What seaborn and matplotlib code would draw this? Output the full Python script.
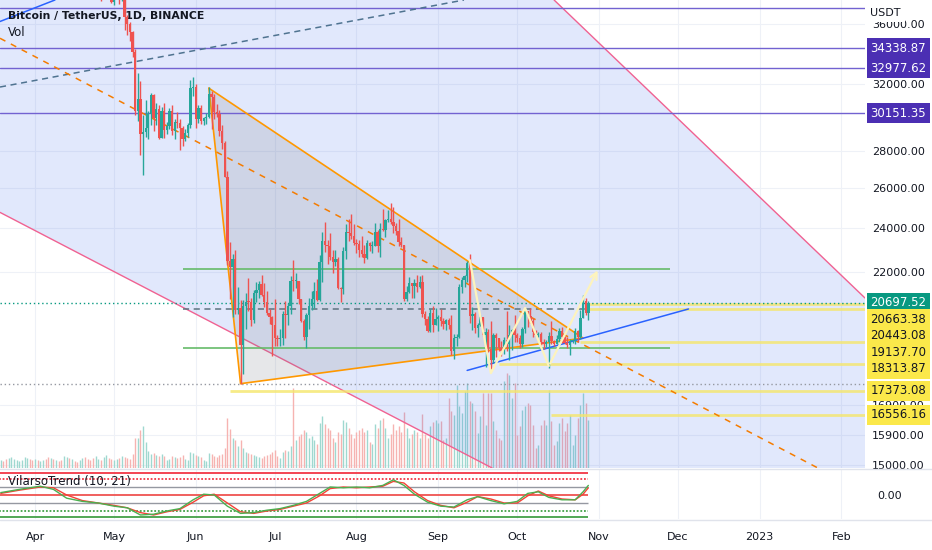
import numpy as np
import pandas as pd
import matplotlib
matplotlib.use("Agg")
import matplotlib.pyplot as plt
import matplotlib.dates as mdates
from matplotlib.ticker import FixedLocator, NullLocator, FuncFormatter
from matplotlib.lines import Line2D
import seaborn as sns

# daily BTC/USDT candles, 2022-03-19 .. 2022-10-28
dates = pd.date_range("2022-03-19", "2022-10-28", freq="D")
first_open = 40920
closes = [
    42200, 41260, 41000, 42360, 42890, 43960, 44350, 44500, 46820, 47130, 47430, 47060, 45540,
    46280, 45810, 46410, 46580, 45500, 43170, 43440, 42250, 42750, 42160, 39520, 40070, 41150, 39940, 40550,
    40380, 39680, 40800, 41500, 41370, 40480, 39710, 39450, 39450, 40430, 38110, 39240, 39740, 38600, 37630,
    38470, 38530, 37750, 39690, 36550, 36010, 35470, 34060, 30300, 31020, 28940, 29050, 29280, 30100, 31300,
    29860, 30420, 28720, 30310, 29200, 29430, 30320, 29100, 29650, 29560, 29270, 28630, 29030, 29470, 31730, 31790,
    29800, 30450, 29700, 29860, 29910, 31370, 31130, 30210, 30110, 29090, 28420, 26580, 22490, 22210, 22580,
    20380, 20470, 19020, 20550, 20720, 20710, 19990, 21090, 21230, 21500, 21030, 20730, 20280, 20100, 19780,
    19300, 19240, 19300, 20230, 20190, 20550, 21630, 21590, 21590, 20850, 19960, 19330, 20210, 20570, 20830,
    21190, 20790, 22430, 23390, 23230, 23160, 22680, 22450, 22580, 21310, 21250, 22950, 23840, 23780, 23640, 23290,
    23270, 22980, 22820, 22620, 23310, 23150, 23180, 23810, 23150, 23950, 23930, 24400, 24440, 24310, 24100,
    23850, 23340, 23190, 20830, 21140, 21520, 21400, 21530, 21370, 21570, 20240, 20040, 19550, 20280, 19800, 20050,
    20130, 19950, 19830, 20000, 19790, 18790, 19290, 19320, 21360, 21650, 21830, 22400, 20170, 20230, 19700,
    19800, 20110, 19420, 19540, 18870, 18480, 19400, 19300, 18920, 18800, 19220, 19080, 19410, 19590, 19420,
    19310, 19050, 19630, 20340, 20160, 19960, 19530, 19420, 19440, 19130, 19060, 19160, 19380, 19180, 19070,
    19270, 19550, 19330, 19120, 19040, 19170, 19210, 19570, 19330, 20090, 20770, 20290, 20697.52,
]
highs = [
    42400, 42300, 41540, 43360, 43000, 44220, 45100, 44820, 46900, 48190, 48100, 47700, 47600,
    46720, 47210, 47440, 46890, 47200, 45510, 43900, 43970, 42800, 43430, 42420, 40700, 41550, 41500, 40890,
    40700, 40590, 41100, 41760, 42200, 42980, 40800, 39980, 39930, 40620, 40800, 39450, 40370, 39900, 38790,
    38680, 39170, 38650, 40020, 39850, 36690, 36140, 35510, 34240, 32660, 32190, 30030, 30980, 30320, 31410,
    31310, 30780, 30680, 30550, 30770, 29620, 30450, 30660, 29830, 30220, 29840, 29400, 29250, 29560, 32220, 32400,
    31980, 30650, 30690, 29960, 30150, 31780, 31550, 31330, 30700, 30380, 29450, 28570, 26880, 23360, 22800,
    22980, 21360, 20790, 20810, 21080, 21720, 20890, 21230, 21560, 21600, 21870, 21540, 21200, 20420, 20170,
    20870, 19420, 19650, 20350, 20750, 20670, 21810, 22530, 21950, 21600, 20860, 20050, 20260, 20880, 21200,
    21560, 21680, 22760, 23800, 24280, 23440, 23760, 22990, 22980, 22660, 21340, 23110, 24200, 24440, 24670, 24190,
    23510, 23460, 23650, 23230, 23460, 23350, 23400, 24240, 23930, 24230, 24920, 24460, 24890, 25210, 25010,
    24250, 24450, 23600, 23200, 21380, 21780, 21540, 21690, 21860, 21820, 21890, 20340, 20150, 20420, 20580, 20490,
    20200, 20440, 20060, 20020, 20060, 20180, 19460, 19450, 21500, 21790, 21860, 22490, 22800, 20540, 20330,
    19890, 20190, 20100, 19690, 19630, 19960, 19500, 19500, 19310, 19180, 19320, 20340, 19790, 19650, 20180,
    19480, 19400, 19720, 20480, 20370, 20460, 20060, 19620, 19520, 19540, 19250, 19220, 19510, 19950, 19230,
    19420, 19680, 19710, 19360, 19340, 19250, 19250, 19690, 19600, 20410, 21020, 20880, 20750,
]
lows = [
    40900, 40920, 40500, 40890, 41800, 42570, 43600, 44070, 44420, 46660, 46950, 46600, 45200,
    44200, 45620, 45520, 45120, 45350, 43120, 42730, 42110, 42130, 42100, 39200, 39250, 39550, 39550, 39770,
    40020, 39550, 38540, 40570, 40830, 39760, 39180, 39290, 38880, 38200, 37700, 37880, 38870, 38180, 37580,
    37390, 38050, 37500, 37670, 35570, 35250, 34790, 33710, 30030, 29730, 27780, 26700, 28750, 28630, 29490,
    29100, 29460, 28650, 28690, 28730, 28930, 29230, 28880, 28630, 29310, 28020, 28280, 28550, 28800, 29300, 31200,
    29310, 29600, 29500, 29450, 29500, 29870, 29220, 29850, 29940, 28850, 28100, 26560, 22320, 20850, 20110,
    20230, 20240, 17620, 17960, 19640, 20350, 19770, 19890, 20740, 20900, 20960, 20510, 20190, 19850, 18630,
    19000, 18980, 18980, 19040, 19310, 19780, 20230, 21190, 21320, 20650, 19900, 19230, 18900, 19630, 20380,
    20480, 20760, 20760, 21580, 22900, 22340, 22520, 21950, 22260, 21250, 20710, 21040, 22590, 23400, 23500, 23220,
    22850, 22660, 22680, 22410, 22590, 22930, 22850, 23150, 22880, 22660, 23860, 23580, 24300, 24180, 23770,
    23660, 23180, 23100, 20780, 20760, 21100, 20890, 20900, 21160, 21320, 20120, 19800, 19520, 19540, 19540, 19790,
    19560, 19750, 19650, 19600, 19630, 18650, 18510, 19000, 19290, 21110, 21360, 21550, 19860, 19620, 19500,
    19320, 19760, 19380, 18230, 18760, 18130, 18360, 18570, 18820, 18630, 18680, 18820, 18470, 18840, 19160,
    19160, 18920, 18960, 19500, 19730, 19860, 19330, 19370, 19320, 19020, 18860, 18970, 18190, 19070, 18980,
    19060, 19160, 19100, 19070, 18900, 18660, 19100, 19080, 19160, 19240, 20060, 20200, 20000,
]
volume = [
    8, 7, 9, 10, 11, 9, 8, 7, 8, 11, 10, 9, 8,
    9, 8, 7, 8, 9, 11, 10, 9, 8, 7, 8, 12, 11, 10, 9, 7, 6, 8, 10, 11, 9, 8, 10, 12, 9, 8, 11, 13, 10, 9,
    8, 9, 10, 12, 11, 10, 9, 14, 30, 30, 38, 42, 26, 17, 14, 15, 13, 12, 14, 12, 8, 9, 12, 11, 10, 11, 13, 9, 8, 16, 15,
    13, 12, 11, 8, 7, 15, 14, 12, 11, 13, 14, 20, 50, 39, 30, 28, 22, 28, 20, 16, 15, 14, 13, 12, 11, 10, 12, 13, 14, 16,
    18, 12, 10, 16, 18, 17, 22, 80, 28, 32, 34, 38, 36, 30, 32, 28, 24, 45, 52, 44, 40, 38, 30, 26, 36, 34, 48, 46, 40, 34, 30,
    36, 38, 40, 36, 38, 26, 24, 44, 40, 48, 50, 40, 30, 34, 44, 38, 42, 36, 56, 40, 30, 34, 38, 36, 30, 54, 34, 30, 42, 46, 48,
    45, 47, 28, 30, 70, 57, 53, 83, 62, 55, 77, 85, 67, 65, 57, 35, 52, 75, 43, 75, 75, 47, 38, 30, 28, 87, 95, 93, 70, 85,
    33, 42, 58, 62, 65, 63, 43, 20, 23, 43, 48, 43, 78, 47, 23, 27, 45, 50, 37, 45, 53, 23, 33, 50, 63, 75, 65, 48,
]

# VilarsoTrend (10, 21) oscillator
ind_dates = pd.to_datetime([
    "2022-03-19", "2022-03-26", "2022-04-03", "2022-04-08", "2022-04-13", "2022-04-19", "2022-04-25",
    "2022-05-01", "2022-05-06", "2022-05-11", "2022-05-16", "2022-05-21", "2022-05-26", "2022-05-31",
    "2022-06-04", "2022-06-08", "2022-06-13", "2022-06-18", "2022-06-23", "2022-06-28", "2022-07-03",
    "2022-07-08", "2022-07-13", "2022-07-18", "2022-07-22", "2022-07-27", "2022-08-01", "2022-08-06",
    "2022-08-11", "2022-08-15", "2022-08-19", "2022-08-23", "2022-08-28", "2022-09-02", "2022-09-07",
    "2022-09-12", "2022-09-16", "2022-09-21", "2022-09-26", "2022-10-01", "2022-10-05", "2022-10-09",
    "2022-10-13", "2022-10-18", "2022-10-23", "2022-10-26", "2022-10-28",
])
trend_fast = [0.15, 0.35, 0.55, 0.35, -0.2, -0.4, -0.5, -0.7, -0.8, -1.25, -1.2, -1.0, -0.85, -0.3,
              0.05, 0.0, -0.7, -1.15, -1.1, -0.95, -0.85, -0.65, -0.4, 0.1, 0.5, 0.45, 0.5, 0.45,
              0.6, 0.95, 0.6, 0.05, -0.45, -0.7, -0.75, -0.3, -0.1, -0.35, -0.55, -0.4, 0.1, 0.2,
              -0.15, -0.3, -0.3, 0.2, 0.6]
trend_slow = [0.1, 0.3, 0.5, 0.45, 0.0, -0.35, -0.5, -0.65, -0.8, -1.1, -1.25, -1.05, -0.9, -0.45,
              -0.05, 0.05, -0.5, -1.05, -1.15, -1.0, -0.9, -0.7, -0.5, -0.05, 0.4, 0.5, 0.45, 0.5,
              0.55, 0.85, 0.75, 0.2, -0.35, -0.65, -0.8, -0.45, -0.1, -0.25, -0.5, -0.5, -0.05, 0.25,
              -0.05, -0.25, -0.3, 0.05, 0.45]

# drawings on the chart: (date, price) pairs
channel_upper = [("2022-10-15", 37780), ("2023-03-01", 18990)]
channel_lower = [("2022-03-01", 25990), ("2022-09-20", 14960)]
teal_dashed = [("2022-03-01", 31230), ("2022-07-18", 35800)]
blue_top = [("2022-03-01", 34910), ("2022-04-01", 37200)]
orange_dashed = [("2022-03-01", 36760), ("2022-11-01", 18730)]
triangle = [("2022-06-06", 31700), ("2022-06-18", 17620), ("2022-10-26", 19290)]
blue_support = [("2022-09-12", 18090), ("2022-12-05", 20440)]
zigzag = [("2022-09-13", 22530), ("2022-09-21", 17990), ("2022-10-04", 20480),
          ("2022-10-13", 18250), ("2022-11-01", 22180)]
green_levels = [22130, 18910]
green_span = ("2022-05-27", "2022-11-28")
purple_levels = [37190, 34338.87, 32977.62, 30151.35]
yellow_levels = [20663.38, 20443.08, 19137.70, 18313.87, 17373.08, 16556.16]
yellow_start = ["2022-10-28", "2022-10-28", "2022-10-25", "2022-09-24", "2022-06-14", "2022-10-14"]
last_price = 20697.52
low_line = 17620
price_ticks = [15000, 15900, 16900, 22000, 24000, 26000, 28000, 32000, 36000]

GREEN, RED = "#26a69a", "#ef5350"

sns.set_theme(style="white")
plt.rcParams["font.family"] = ["DejaVu Sans"]

W, H = 932, 550
fig = plt.figure(figsize=(W / 100, H / 100), dpi=100)
ax = fig.add_axes([0, (H - 468) / H, 865 / W, 468 / H])
axi = fig.add_axes([0, (H - 519) / H, 865 / W, 50 / H], sharex=ax)

def dn(s):
    return mdates.date2num(pd.Timestamp(s))

def pts(seq):
    return [dn(d) for d, _ in seq], [p for _, p in seq]

x = mdates.date2num(dates)
c = np.array(closes, dtype=float)
o = np.concatenate([[first_open], c[:-1]])
hi = np.array(highs, dtype=float)
lo = np.array(lows, dtype=float)
up = c >= o
cols = np.where(up, GREEN, RED)

x0 = dn("2022-04-01")
xl = (x0 - 13.3, x0 + 315.0)
ax.set_yscale("log")
ax.set_xlim(*xl)
ax.set_ylim(14900, 37780)

# volume along the bottom of the price pane
vol = np.array(volume, dtype=float)
ax.vlines(x, 0, vol / 468, transform=ax.get_xaxis_transform(),
          colors=np.where(up, "#9fd8d0", "#f6b3b1"), lw=1, zorder=1)

# channel fill
ux, uy = pts(channel_upper)
lx, ly = pts(channel_lower)
poly_x = [dn("2022-03-01"), ux[0], ux[1], ux[1], lx[1], lx[0]]
poly_y = [60000, uy[0], uy[1], 10000, ly[1], ly[0]]
ax.fill(poly_x, poly_y, color="#3a66ee", alpha=0.15, lw=0, zorder=1.5)
ax.axline((ux[0], uy[0]), (ux[1], uy[1]), color="#f06292", lw=1, zorder=2)
ax.axline((lx[0], ly[0]), (lx[1], ly[1]), color="#f06292", lw=1, zorder=2)

# triangle
tx, ty = pts(triangle)
ax.fill(tx, ty, color="#787b86", alpha=0.18, lw=0, zorder=2)
ax.plot(tx + [tx[0]], ty + [ty[0]], color="#ff9800", lw=1.2, zorder=3)

# trend lines
for seq, col, ls in [(teal_dashed, "#4f7390", (0, (4, 3))), (blue_top, "#2962ff", "-"),
                     (orange_dashed, "#f57c00", (0, (4, 4)))]:
    px, py = pts(seq)
    ax.axline((px[0], py[0]), (px[1], py[1]), color=col, lw=1.1, ls=ls, zorder=2.5)
bx, by = pts(blue_support)
ax.plot(bx, by, color="#2962ff", lw=1.1, zorder=3)

# horizontal levels
for p in purple_levels:
    ax.axhline(p, color="#7262d1", lw=1, zorder=2)
for p in green_levels:
    ax.hlines(p, dn(green_span[0]), dn(green_span[1]), color="#66bb6a", lw=1.2, zorder=2)
ax.hlines(yellow_levels[1], dn(green_span[0]), dn(yellow_start[1]), color="#5d7380",
          lw=1.1, ls=(0, (4, 3)), zorder=2)
for p, s in zip(yellow_levels, yellow_start):
    ax.hlines(p, dn(s), dn("2023-03-01"), color="#f5e66a", lw=2, alpha=0.8, zorder=2)
ax.axhline(last_price, color="#089981", lw=1, ls=(0, (1, 2)), zorder=2)
ax.axhline(low_line, color="#9598a1", lw=1, ls=(0, (1, 2)), zorder=2)

# candles
ax.vlines(x, lo, hi, colors=cols, lw=1.0, zorder=4)
body_lo = np.minimum(o, c)
body_h = np.maximum(np.abs(c - o), body_lo * 0.002)
ax.bar(x, body_h, bottom=body_lo, width=0.88, color=cols, lw=0, zorder=4)

# zigzag projection
zx, zy = pts(zigzag)
ax.plot(zx[:-1], zy[:-1], color="#fdf3bd", lw=1.6, zorder=5)
ax.annotate("", xy=(zx[-1], zy[-1]), xytext=(zx[-2], zy[-2]),
            arrowprops=dict(arrowstyle="->", color="#fdf3bd", lw=1.6), zorder=5)

# axes styling
for s in ax.spines.values():
    s.set_visible(False)
ax.grid(True, color="#eef1f7", lw=0.8, zorder=0)
ax.yaxis.tick_right()
ax.yaxis.set_major_locator(FixedLocator(price_ticks))
ax.yaxis.set_minor_locator(NullLocator())
ax.yaxis.set_major_formatter(FuncFormatter(lambda v, _: f"{v:.2f}"))
ax.tick_params(axis="y", length=0, pad=5, labelsize=8, labelcolor="#131722")
ax.tick_params(axis="x", labelbottom=False, length=0)

ax.text(0.009, 1 - 16 / 468, "Bitcoin / TetherUS, 1D, BINANCE", transform=ax.transAxes,
        fontsize=7.8, color="#131722", fontweight="semibold", va="center")
ax.text(0.009, 1 - 32 / 468, "Vol", transform=ax.transAxes, fontsize=8.5,
        color="#131722", va="center")

# price badges on the right axis
def badge(price, label, fc, tc, dy_pt=0.0):
    ax.annotate(label, xy=(1, price), xycoords=("axes fraction", "data"),
                xytext=(4, dy_pt), textcoords="offset points", va="center", ha="left",
                fontsize=8.5, color=tc, annotation_clip=False, zorder=10,
                bbox=dict(boxstyle="square,pad=0.3", fc=fc, ec="none"))

for p in purple_levels[1:]:
    badge(p, f"{p:.2f}", "#4b2fb3", "white")

stack = [(last_price, "#089981", "white")] + [(p, "#fbe84a", "#131722") for p in yellow_levels]
prev = None
for p, fc, tc in stack:
    yd = ax.transData.transform((xl[0], p))[1]
    yl = yd if prev is None else min(yd, prev - 16.5)
    badge(p, f"{p:.2f}", fc, tc, (yl - yd) * 0.72)
    prev = yl

fig.text(870 / W, 1 - 13 / H, "USDT", fontsize=8, color="#131722", va="center",
         bbox=dict(boxstyle="square,pad=0.4", fc="white", ec="none"))

# indicator pane
for lvl, col, ls in [(1.375, "#f23645", "-"), (1.0, "#f23645", (0, (1, 1))),
                     (0.5, "#9598a1", "-"), (0.0, "#ef5350", "-"),
                     (-0.5, "#9598a1", "-"), (-1.0, "#43a047", (0, (1, 1))),
                     (-1.375, "#43a047", "-")]:
    axi.hlines(lvl, x[0] - 20, x[-1], color=col, lw=1.3 if col != "#9598a1" else 1, ls=ls)
ix = mdates.date2num(ind_dates)
sns.lineplot(x=ix, y=trend_slow, ax=axi, color="#f44336", lw=1)
sns.lineplot(x=ix, y=trend_fast, ax=axi, color="#4caf50", lw=1)
axi.set_ylim(-1.5, 1.625)
axi.set_xlim(*xl)
for s in axi.spines.values():
    s.set_visible(False)
axi.grid(True, axis="x", color="#eef1f7", lw=0.8)
axi.yaxis.tick_right()
axi.set_yticks([0])
axi.set_yticklabels(["0.00"])
axi.tick_params(axis="y", length=0, pad=9, labelsize=8, labelcolor="#131722")
axi.set_ylabel("")
axi.text(0.009, 0.74, "VilarsoTrend (10, 21)", transform=axi.transAxes, fontsize=8.5,
         color="#131722", va="center")

axi.xaxis.set_major_locator(mdates.MonthLocator())
axi.xaxis.set_major_formatter(FuncFormatter(
    lambda v, _: mdates.num2date(v).strftime("%Y" if mdates.num2date(v).month == 1 else "%b")))
axi.tick_params(axis="x", length=0, pad=9, labelsize=8, labelcolor="#131722")

for yy in (469, 520):
    fig.add_artist(Line2D([0, 1], [1 - yy / H, 1 - yy / H], color="#e0e3eb", lw=1))

fig.savefig("out.png", dpi=100)
